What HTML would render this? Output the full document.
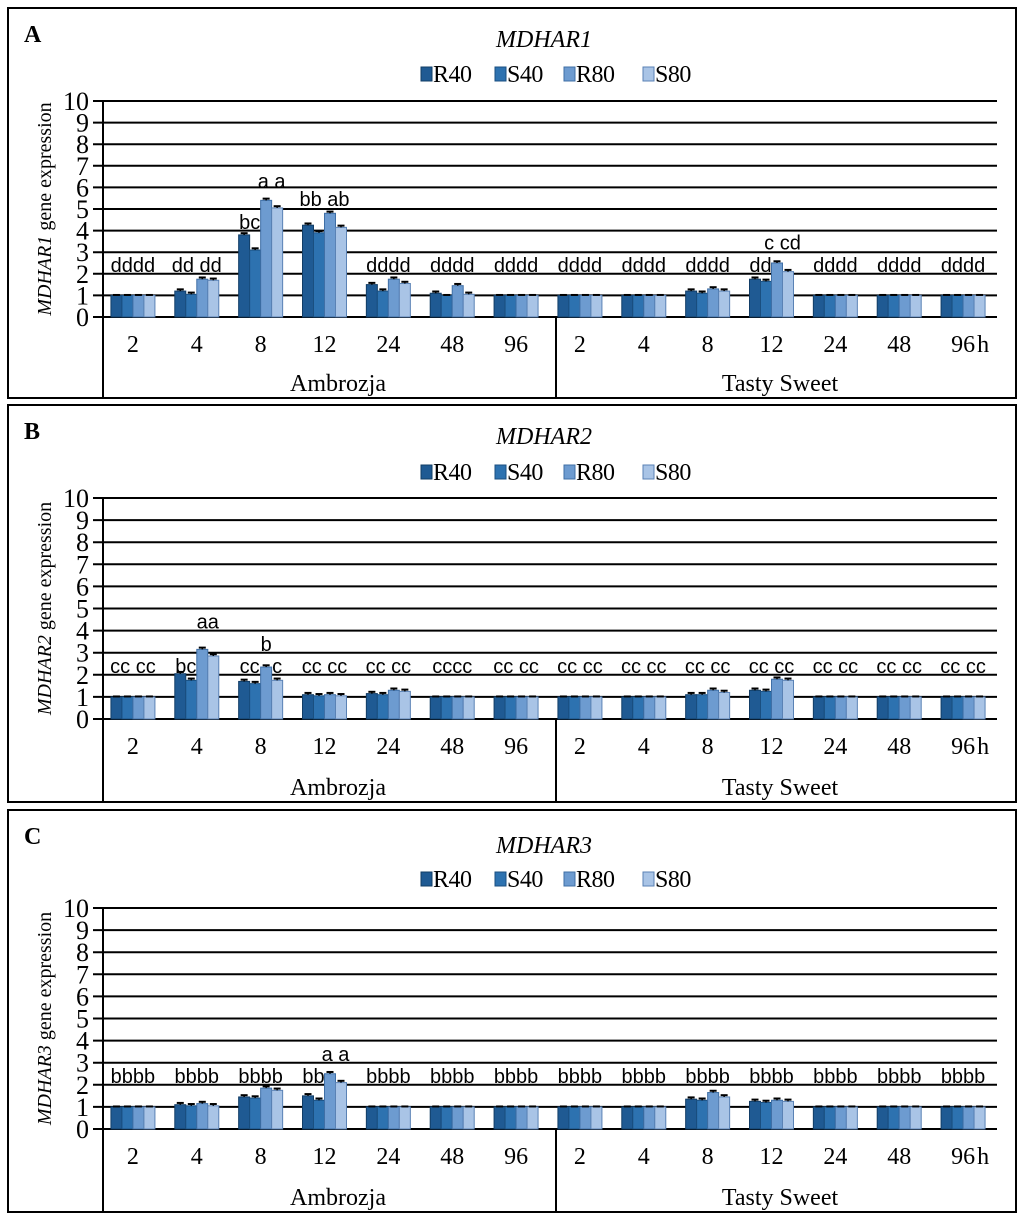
<!DOCTYPE html>
<html><head><meta charset="utf-8">
<style>
html,body{margin:0;padding:0;background:#fff;}
svg{display:block;}
</style></head>
<body>
<svg id="fig" width="1024" height="1220" xmlns="http://www.w3.org/2000/svg"></svg>
<script>
const categories = ["2","4","8","12","24","48","96","2","4","8","12","24","48","96"];
const groups = ["Ambrozja","Tasty Sweet"];
const seriesNames = ["R40","S40","R80","S80"];
const yTicks = [0,1,2,3,4,5,6,7,8,9,10];
// Panel A values per series
const aR40 = [1,1.2,3.8,4.25,1.5,1.1,1, 1,1,1.2,1.75,1,1,1];
const aS40 = [1,1.05,3.1,3.9,1.2,1.0,1, 1,1,1.1,1.65,1,1,1];
const aR80 = [1,1.75,5.4,4.8,1.75,1.45,1, 1,1,1.3,2.5,1,1,1];
const aS80 = [1,1.7,5.05,4.15,1.55,1.05,1, 1,1,1.2,2.1,1,1,1];
// Panel B
const bR40 = [1,2.05,1.7,1.1,1.15,1,1, 1,1,1.1,1.3,1,1,1];
const bS40 = [1,1.75,1.6,1.05,1.1,1,1, 1,1,1.1,1.25,1,1,1];
const bR80 = [1,3.15,2.35,1.1,1.3,1,1, 1,1,1.3,1.8,1,1,1];
const bS80 = [1,2.85,1.75,1.05,1.25,1,1, 1,1,1.2,1.75,1,1,1];
// Panel C
const cR40 = [1,1.1,1.45,1.5,1,1,1, 1,1,1.35,1.25,1,1,1];
const cS40 = [1,1.05,1.4,1.3,1,1,1, 1,1,1.3,1.2,1,1,1];
const cR80 = [1,1.15,1.85,2.5,1,1,1, 1,1,1.65,1.3,1,1,1];
const cS80 = [1,1.05,1.75,2.1,1,1,1, 1,1,1.45,1.25,1,1,1];
// annotations: [category, bar offset (bar units from group center), value, text]
const aLabels = [[0,0,2.45,"dddd"],[1,0,2.45,"dd dd"],[2,-1,4.45,"bc"],[2,1,6.35,"a a"],[3,0,5.5,"bb ab"],[4,0,2.45,"dddd"],[5,0,2.45,"dddd"],[6,0,2.45,"dddd"],[7,0,2.45,"dddd"],[8,0,2.45,"dddd"],[9,0,2.45,"dddd"],[10,-1,2.45,"dd"],[10,1,3.5,"c cd"],[11,0,2.45,"dddd"],[12,0,2.45,"dddd"],[13,0,2.45,"dddd"]];
const bLabels = [[0,0,2.45,"cc cc"],[1,-1,2.45,"bc"],[1,1,4.45,"aa"],[2,-1,2.45,"cc"],[2,0.5,3.45,"b"],[2,1.5,2.45,"c"],[3,0,2.45,"cc cc"],[4,0,2.45,"cc cc"],[5,0,2.45,"cccc"],[6,0,2.45,"cc cc"],[7,0,2.45,"cc cc"],[8,0,2.45,"cc cc"],[9,0,2.45,"cc cc"],[10,0,2.45,"cc cc"],[11,0,2.45,"cc cc"],[12,0,2.45,"cc cc"],[13,0,2.45,"cc cc"]];
const cLabels = [[0,0,2.45,"bbbb"],[1,0,2.45,"bbbb"],[2,0,2.45,"bbbb"],[3,-1,2.45,"bb"],[3,1,3.45,"a a"],[4,0,2.45,"bbbb"],[5,0,2.45,"bbbb"],[6,0,2.45,"bbbb"],[7,0,2.45,"bbbb"],[8,0,2.45,"bbbb"],[9,0,2.45,"bbbb"],[10,0,2.45,"bbbb"],[11,0,2.45,"bbbb"],[12,0,2.45,"bbbb"],[13,0,2.45,"bbbb"]];

const fills = ["#1f5a93","#2d72b0","#6d9bd0","#a9c4e6"];
const strokes = ["#123d66","#1a4f80","#3f6fa6","#5a82b5"];
const NS = "http://www.w3.org/2000/svg";
const svg = document.getElementById("fig");
function mk(tag, attrs, parent, text){
  const e = document.createElementNS(NS, tag);
  for (const k in attrs) e.setAttribute(k, attrs[k]);
  if (text !== undefined) e.textContent = text;
  (parent||svg).appendChild(e);
  return e;
}
const serif = "'Liberation Serif', serif";
const sans = "'Liberation Sans', sans-serif";

function panel(p){
  const g = mk("g", {});
  
  
  const box = mk("rect", {x:p.bx, y:p.by, width:1008, height:p.bh, fill:"none", stroke:"#000", "stroke-width":2}, g);
  
  
  const let_ = mk("text", {x:24, y:p.by+34, "font-family":serif, "font-size":24, "font-weight":"bold"}, g, p.letter);
  
  
  const t = mk("text", {x:544, y:p.titleY, "font-family":serif, "font-size":24, "font-style":"italic", "text-anchor":"middle"}, g, p.gene);
  
  
  // legend
  const lx = [421, 495, 564, 643];
  seriesNames.forEach((s,i)=>{
    const le = mk("g", {}, g);
    
    
    mk("rect", {x:lx[i], y:p.legY-15, width:11, height:14, fill:fills[i], stroke:strokes[i]}, le);
    mk("text", {x:lx[i]+12, y:p.legY, "font-family":serif, "font-size":24, "letter-spacing":"-0.5"}, le, s);
  });
  const x0 = 103, x1 = 997, yTop = p.yTop, yBot = p.yBot;
  const ys = v => yBot - (v/10)*(yBot-yTop);
  const cw = (x1-x0)/categories.length;
  const xc = i => x0 + cw*(i+0.5) - 2;
  // gridlines & ticks
  yTicks.forEach(v=>{
    const gl = mk("line", {x1:x0-10, x2:x1, y1:ys(v), y2:ys(v), stroke:"#000", "stroke-width":2}, g);
    
    
    const tl = mk("text", {x:x0-14, y:ys(v)+9, "font-family":serif, "font-size":26, "text-anchor":"end"}, g, String(v));
    
    
  });
  const ax = mk("line", {x1:x0, x2:x0, y1:yTop, y2:p.bby, stroke:"#000", "stroke-width":2}, g);
  
  
  const dv = mk("line", {x1:556, x2:556, y1:yBot, y2:p.bby, stroke:"#000", "stroke-width":2}, g);
  
  
  const yt = mk("text", {transform:`translate(51,${(yTop+yBot)/2}) rotate(-90)`, "font-family":serif, "font-size":20, "text-anchor":"middle"}, g);
  
  
  mk("tspan", {"font-style":"italic"}, yt, p.gene);
  mk("tspan", {}, yt, " gene expression");
  // bars
  const bw = 11;
  p.series.forEach((arr, si)=>{
    arr.forEach((v, ci)=>{
      const bx = xc(ci) - 2*bw + si*bw;
      const r = mk("rect", {x:bx, y:ys(v), width:bw, height:ys(0)-ys(v), fill:fills[si], stroke:strokes[si], "stroke-width":1}, g);
      
      
      const e = v > 1.02 ? 0.08 : 0.02;
      mk("line", {x1:bx+bw/2, x2:bx+bw/2, y1:ys(v+e), y2:ys(v), stroke:"#000", "stroke-width":1.5}, g);
      mk("line", {x1:bx+2, x2:bx+bw-2, y1:ys(v+e), y2:ys(v+e), stroke:"#000", "stroke-width":2}, g);
    });
  });
  // annotations
  p.labels.forEach(a=>{
    const tx = mk("text", {x:xc(a[0]) + a[1]*bw, y:ys(a[2])+8, "font-family":sans, "font-size":20, "text-anchor":"middle"}, g, a[3]);
    
    
  });
  // category labels
  categories.forEach((c,i)=>{
    const ct = mk("text", {x:xc(i), y:yBot+35, "font-family":serif, "font-size":24, "text-anchor":"middle"}, g, c);
    
    
  });
  mk("text", {x:xc(13)+14, y:yBot+35, "font-family":serif, "font-size":24}, g, "h");
  groups.forEach((gn,i)=>{
    const gt = mk("text", {x:i===0?338:780, y:p.groupY, "font-family":serif, "font-size":24, "text-anchor":"middle"}, g, gn);
    
    
  });
}
panel({letter:"A", gene:"MDHAR1", bx:8, by:8, bh:390, bby:398, titleY:47, legY:82, yTop:101, yBot:317, groupY:391, series:[aR40,aS40,aR80,aS80], labels:aLabels});
panel({letter:"B", gene:"MDHAR2", bx:8, by:405, bh:397, bby:802, titleY:444, legY:480, yTop:498, yBot:719, groupY:795, series:[bR40,bS40,bR80,bS80], labels:bLabels});
panel({letter:"C", gene:"MDHAR3", bx:8, by:810, bh:402, bby:1212, titleY:853, legY:887, yTop:908, yBot:1129, groupY:1205, series:[cR40,cS40,cR80,cS80], labels:cLabels});
</script>
</body></html>
